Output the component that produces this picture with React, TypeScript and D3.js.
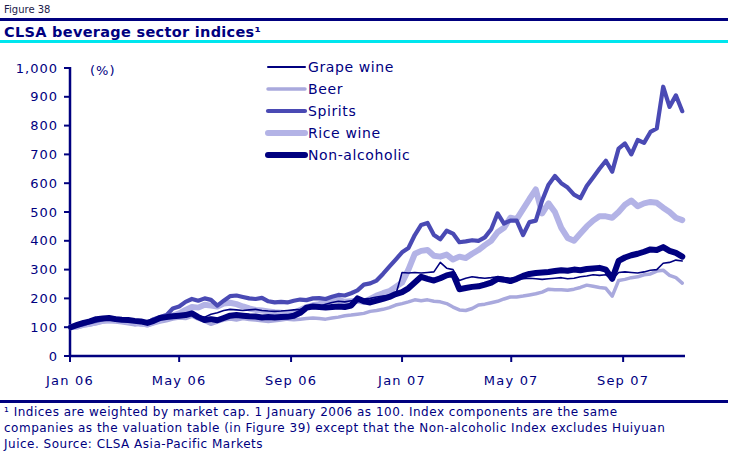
import React from "react";
import * as d3 from "d3";

// x categories: weekly observations from 2 Jan 2006
const weekCount = 97;
const startDate = new Date(2006, 0, 2);

const grapeWine = [
  100, 105, 112, 118, 122, 125, 128, 125, 122, 120, 118, 115, 112, 120, 128, 132, 135, 138, 140, 145,
  138, 135, 145, 150, 158, 162, 160, 158, 160, 162, 158, 156, 155, 156, 158, 160, 162, 165, 168, 172,
  180, 186, 190, 188, 192, 195, 198, 200, 205, 208, 210, 212, 290, 288, 290, 288, 290, 292, 325, 305,
  300, 262, 270, 275, 272, 270, 272, 275, 272, 270, 272, 268, 270, 268, 266, 268, 270, 272, 268, 270,
  275, 278, 282, 280, 282, 265, 290, 292, 290, 288, 292, 298, 300, 322, 325, 333, 330,
];

const beer = [
  100, 98, 105, 108, 112, 118, 120, 118, 115, 112, 108, 110, 105, 112, 118, 122, 128, 132, 130, 138,
  128, 120, 110, 118, 125, 128, 125, 130, 127, 125, 122, 120, 122, 125, 128, 126, 128, 130, 132, 130,
  128, 132, 135, 140, 142, 145, 148, 155, 158, 162, 168, 177, 182, 188, 195, 192, 195, 190, 188, 182,
  170, 160, 158, 165, 177, 180, 185, 190, 198, 205, 205, 208, 212, 216, 222, 232, 230, 230, 228, 232,
  238, 246, 242, 238, 235, 208, 262, 266, 272, 275, 282, 285, 295, 298, 280, 272, 253,
];

const spirits = [
  100, 105, 110, 118, 122, 128, 132, 130, 127, 125, 122, 118, 115, 128, 135, 142, 165, 172, 188, 198,
  192, 200, 195, 175, 192, 208, 210, 205, 200, 198, 202, 190, 186, 188, 186, 192, 196, 194, 200, 201,
  198, 206, 212, 210, 218, 228, 248, 252, 262, 285, 310, 335, 360, 375, 420, 455, 462, 420, 405, 435,
  425, 395, 398, 402, 400, 412, 440, 495, 460, 470, 470, 420, 465, 470, 540, 595, 625, 600, 585, 560,
  548, 590, 620, 650, 678, 640, 720, 738, 700, 750, 740, 778, 790, 935, 865, 905, 850,
];

const riceWine = [
  100, 103, 108, 112, 118, 122, 125, 124, 122, 120, 118, 112, 110, 118, 125, 132, 140, 148, 160, 170,
  168, 178, 175, 172, 182, 185, 180, 172, 165, 160, 158, 155, 152, 150, 148, 150, 160, 170, 176, 180,
  188, 192, 195, 188, 190, 192, 188, 198, 210, 218, 225, 240, 255, 300, 355, 365, 368, 348, 345, 352,
  335, 345, 340, 355, 368, 385, 400, 430, 445, 480, 475, 510, 545, 578, 495, 530, 500, 445, 410, 400,
  425, 450, 470, 485, 485, 480, 500, 525, 540, 520, 530, 535, 532, 515, 500, 480, 472,
];

const nonAlcoholic = [
  100, 108, 115, 120, 128, 130, 132, 128, 126, 125, 122, 120, 115, 122, 132, 135, 138, 140, 142, 148,
  135, 125, 128, 124, 132, 140, 142, 140, 138, 137, 134, 135, 134, 135, 136, 140, 150, 168, 172, 170,
  168, 170, 172, 170, 175, 200, 190, 186, 192, 198, 205, 215, 222, 235, 255, 275, 268, 262, 270, 280,
  285, 232, 236, 240, 242, 248, 255, 268, 265, 260, 268, 278, 285, 288, 290, 292, 295, 298, 296, 300,
  298, 302, 304, 306, 300, 268, 330, 342, 350, 355, 362, 370, 368, 378, 365, 358, 345,
];

const yTicks = [0, 100, 200, 300, 400, 500, 600, 700, 800, 900, 1000];
const xTickDates = [
  new Date(2006, 0, 1),
  new Date(2006, 4, 1),
  new Date(2006, 8, 1),
  new Date(2007, 0, 1),
  new Date(2007, 4, 1),
  new Date(2007, 8, 1),
];
const xTickLabels = ["Jan 06", "May 06", "Sep 06", "Jan 07", "May 07", "Sep 07"];

const seriesNames = ["Grape wine", "Beer", "Spirits", "Rice wine", "Non-alcoholic"];

const footnoteLines = [
  "\u00b9 Indices are weighted by market cap. 1 January 2006 as 100. Index components are the same",
  "companies as the valuation table (in Figure 39) except that the Non-alcoholic Index excludes Huiyuan",
  "Juice. Source: CLSA Asia-Pacific Markets",
];

const NAVY = "#00007f";

export default function App() {
  const width = 736;
  const height = 463;

  const dates = d3.range(weekCount).map((i) => d3.timeDay.offset(startDate, 7 * i));

  const x = d3
    .scaleTime()
    .domain([new Date(2006, 0, 1), new Date(2007, 10, 8)])
    .range([70, 685]);
  const y = d3.scaleLinear().domain([0, 1000]).range([356, 68]);

  const line = d3
    .line<number>()
    .x((_, i) => x(dates[i]))
    .y((d) => y(d));

  const styles: Record<string, { color: string; w: number }> = {
    "Grape wine": { color: NAVY, w: 1.6 },
    Beer: { color: "#a9a9dd", w: 3.5 },
    Spirits: { color: "#4a4ab4", w: 4.2 },
    "Rice wine": { color: "#b3b3e6", w: 6 },
    "Non-alcoholic": { color: NAVY, w: 6 },
  };
  const valuesByName: Record<string, number[]> = {
    "Grape wine": grapeWine,
    Beer: beer,
    Spirits: spirits,
    "Rice wine": riceWine,
    "Non-alcoholic": nonAlcoholic,
  };
  const drawOrder = ["Beer", "Rice wine", "Spirits", "Non-alcoholic", "Grape wine"];

  const fmt = d3.format(",");

  return (
    <svg
      width={width}
      height={height}
      style={{ position: "absolute", left: 0, top: 0, background: "#fff" }}
      fontFamily="'DejaVu Sans', Verdana, sans-serif"
    >
      <rect x={0} y={0} width={width} height={height} fill="#fff" />
      {/* header */}
      <text x={4} y={13} fontSize={10} fill="#1a1a4a">
        Figure 38
      </text>
      <rect x={0} y={18} width={728} height={3} fill={NAVY} />
      <text x={4} y={37} fontSize={14.5} letterSpacing={0.3} fontWeight="bold" fill={NAVY}>
        CLSA beverage sector indices{"\u00b9"}
      </text>
      <rect x={0} y={40} width={728} height={3} fill="#00e6ee" />

      {/* y axis */}
      <line x1={70} x2={70} y1={y(1000) - 1} y2={y(0) + 1} stroke={NAVY} strokeWidth={2.5} />
      {yTicks.map((t) => (
        <g key={t}>
          <line x1={64} x2={70} y1={y(t)} y2={y(t)} stroke={NAVY} strokeWidth={2} />
          <text
            x={58}
            y={y(t)}
            dy="0.36em"
            textAnchor="end"
            fontSize={13}
            letterSpacing={1}
            fill={NAVY}
          >
            {fmt(t)}
          </text>
        </g>
      ))}
      <text x={90} y={75} fontSize={13} letterSpacing={1} fill={NAVY}>
        (%)
      </text>

      {/* x axis */}
      <line x1={69} x2={685} y1={y(0)} y2={y(0)} stroke={NAVY} strokeWidth={2.5} />
      {xTickDates.map((d, i) => (
        <g key={i}>
          <line x1={x(d)} x2={x(d)} y1={y(0)} y2={y(0) + 6} stroke={NAVY} strokeWidth={2} />
          <text
            x={x(d)}
            y={385}
            textAnchor="middle"
            fontSize={13}
            letterSpacing={1.2}
            fill={NAVY}
          >
            {xTickLabels[i]}
          </text>
        </g>
      ))}

      {/* series */}
      {drawOrder.map((name) => (
        <path
          key={name}
          d={line(valuesByName[name]) || ""}
          fill="none"
          stroke={styles[name].color}
          strokeWidth={styles[name].w}
          strokeLinejoin="round"
          strokeLinecap="round"
        />
      ))}

      {/* legend */}
      {seriesNames.map((name, i) => {
        const ly = 67 + i * 22;
        return (
          <g key={name}>
            <line
              x1={268}
              x2={305}
              y1={ly}
              y2={ly}
              stroke={styles[name].color}
              strokeWidth={Math.max(styles[name].w, 2)}
              strokeLinecap="round"
            />
            <text x={308} y={ly} dy="0.36em" fontSize={14} letterSpacing={0.6} fill={NAVY}>
              {name}
            </text>
          </g>
        );
      })}

      {/* footnote */}
      <rect x={0} y={400} width={728} height={3} fill={NAVY} />
      {footnoteLines.map((l, i) => (
        <text key={i} x={4} y={416 + i * 16} fontSize={12} letterSpacing={0.5} fill={NAVY}>
          {l}
        </text>
      ))}
    </svg>
  );
}
